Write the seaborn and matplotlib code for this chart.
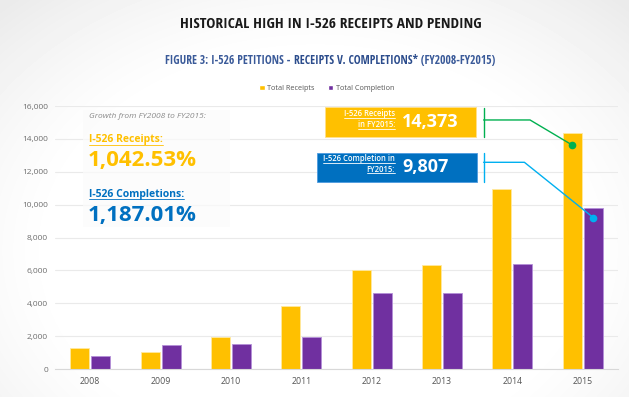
import matplotlib
matplotlib.use('Agg')
import matplotlib.pyplot as plt
import numpy as np
import pandas as pd
import seaborn as sns
from matplotlib.patches import Rectangle
from matplotlib.lines import Line2D

years = ['2008', '2009', '2010', '2011', '2012', '2013', '2014', '2015']
receipts = [1258, 1031, 1955, 3805, 6041, 6346, 10928, 14373]
completions = [762, 1466, 1517, 1938, 4627, 4631, 6383, 9807]
series_names = ['Total Receipts', 'Total Completion']
yticks = [0, 2000, 4000, 6000, 8000, 10000, 12000, 14000, 16000]

YELLOW = '#FFC000'
PURPLE = '#7030A0'
BLUE = '#0070C0'
GREEN = '#00B050'
CYAN = '#00B0F0'
NAVY = '#2B4C8C'
COND = ['Open Sans Condensed', 'Roboto', 'DejaVu Sans']

df = pd.DataFrame({
    'year': years * 2,
    'count': receipts + completions,
    'series': [series_names[0]] * len(years) + [series_names[1]] * len(years),
})

sns.set_style('white')
plt.rcParams['font.family'] = ['Open Sans', 'DejaVu Sans']

fig = plt.figure(figsize=(6.29, 3.97), dpi=100)

# soft vignette background
bg = fig.add_axes([0, 0, 1, 1], zorder=0)
bg.axis('off')
yy, xx = np.mgrid[0:397, 0:629]
r = np.sqrt(((xx - 315) / 430) ** 2 + ((yy - 250) / 320) ** 2)
img = 1 - 0.08 * np.clip((r - 0.6) / 0.45, 0, 1) ** 1.3
bg.imshow(img, cmap='gray', vmin=0, vmax=1, aspect='auto', extent=(0, 1, 0, 1))
bg.set_xlim(0, 1)
bg.set_ylim(0, 1)

ax = fig.add_axes([55 / 629, 28 / 397, 563 / 629, 263 / 397], zorder=1)
ax.patch.set_alpha(0)

sns.barplot(data=df, x='year', y='count', hue='series', palette=[YELLOW, PURPLE],
            width=0.6, gap=0.1, ax=ax, saturation=1, legend=True)
for cont, ec in zip(ax.containers, ['#ffe9a0', '#b48fd8']):
    for p in cont:
        p.set_edgecolor(ec)
        p.set_linewidth(0.6)

ax.set_xlim(-0.5, 7.5)
ax.set_ylim(0, 16000)
ax.set_yticks(yticks)
ax.set_yticklabels([f'{v:,}' for v in yticks])
ax.set_xlabel('')
ax.set_ylabel('')
ax.tick_params(axis='y', length=0, pad=5, labelsize=6, labelcolor='#6e6e6e')
ax.tick_params(axis='x', length=0, pad=6, labelsize=6.3, labelcolor='#555555')
ax.yaxis.grid(True, color='#eaeaea', lw=0.8)
ax.set_axisbelow(True)
for s in ['top', 'right', 'left']:
    ax.spines[s].set_visible(False)
ax.spines['bottom'].set_color('#d8d8d8')
ax.spines['bottom'].set_linewidth(0.8)

sns.move_legend(ax, 'center', bbox_to_anchor=(0.483, 1.068), ncol=2, frameon=False,
                title=None, fontsize=5.2, handlelength=0.7, handleheight=0.7,
                handletextpad=0.4, columnspacing=1.8, labelcolor='#555555')

# left panel with growth figures
ax.add_patch(Rectangle((0.05, 0.54), 0.26, 0.445, transform=ax.transAxes,
                       facecolor='#fbfbfb', alpha=0.75, edgecolor='none', zorder=2))
ax.text(0.06, 0.959, 'Growth from FY2008 to FY2015:', transform=ax.transAxes,
        fontsize=6, style='italic', color='#8a8a8a', va='center', zorder=3)
t1 = ax.text(0.06, 0.871, 'I-526 Receipts:', transform=ax.transAxes, fontsize=7.5,
             fontweight='bold', color=YELLOW, va='center', zorder=3)
ax.text(0.058, 0.791, '1,042.53%', transform=ax.transAxes, fontsize=16,
        fontweight='bold', color=YELLOW, va='center', zorder=3)
t2 = ax.text(0.06, 0.665, 'I-526 Completions:', transform=ax.transAxes, fontsize=7.5,
             fontweight='bold', color=BLUE, va='center', zorder=3)
ax.text(0.058, 0.582, '1,187.01%', transform=ax.transAxes, fontsize=16,
        fontweight='bold', color=BLUE, va='center', zorder=3)
underline = [t1, t2]

# callout boxes for FY2015
x_rec = len(years) - 1 - 0.15
x_comp = len(years) - 1 + 0.15
ax.add_patch(Rectangle((3.33, 14130), 2.15, 1790, facecolor=YELLOW,
                       edgecolor='#ffe08a', lw=0.6, zorder=3))
ax.add_patch(Rectangle((3.23, 11360), 2.26, 1765, facecolor=BLUE,
                       edgecolor='#4d9be0', lw=0.6, zorder=3))
for y0, txt in [(15540, 'I-526 Receipts'), (14850, 'in FY2015:'),
                (12800, 'I-526 Completion in'), (12150, 'FY2015:')]:
    underline.append(ax.text(4.33, y0, txt, fontsize=5.5, fontweight='semibold',
                             color='white', ha='right', va='center', zorder=4))
ax.text(4.43, 15000, f'{receipts[-1]:,}', fontsize=13, fontweight='bold',
        color='white', va='center', zorder=4)
ax.text(4.43, 12280, f'{completions[-1]:,}', fontsize=13, fontweight='bold',
        color='white', va='center', zorder=4)

# connectors
ax.plot([5.59, 5.59], [14130, 15880], color=GREEN, lw=1, zorder=4)
ax.plot([5.59, 6.25, x_rec], [15150, 15150, receipts[-1] - 750], color=GREEN, lw=1, zorder=4)
ax.plot([x_rec], [receipts[-1] - 750], 'o', color=GREEN, ms=4.5, zorder=5)
ax.plot([5.59, 5.59], [11390, 13140], color=CYAN, lw=1, zorder=4)
ax.plot([5.59, 6.17, x_comp], [12575, 12575, completions[-1] - 600], color=CYAN, lw=1, zorder=4)
ax.plot([x_comp], [completions[-1] - 600], 'o', color=CYAN, ms=4.5, zorder=5)

# titles, sized to fit the reference widths
fig.canvas.draw()
rend = fig.canvas.get_renderer()
title = fig.text(331 / 629, 1 - 24.5 / 397, 'HISTORICAL HIGH IN I-526 RECEIPTS AND PENDING',
                 family=COND, fontsize=12, fontweight='bold', color='#1a1a1a',
                 ha='center', va='center')
tw = title.get_window_extent(rend).width
title.set_fontsize(12 * 300 / tw)

parts = [('FIGURE 3: I-526 PETITIONS - ', 'bold', '#3a5a99'),
         ('RECEIPTS V. COMPLETIONS*', 'bold', NAVY),
         (' (FY2008-FY2015)', 'light', '#3a5a99')]
sub = [fig.text(0, 1 - 60 / 397, s, family=COND, fontsize=10, fontweight=w, color=c,
                va='center') for s, w, c in parts]
total = sum(t.get_window_extent(rend).width for t in sub)
for t in sub:
    t.set_fontsize(10 * 330 / total)
widths = [t.get_window_extent(rend).width for t in sub]
x = 330 - sum(widths) / 2
for t, w in zip(sub, widths):
    t.set_x(x / 629)
    x += w

fig.canvas.draw()
for t in underline:
    bb = t.get_window_extent(rend)
    fig.add_artist(Line2D([bb.x0 / 629, bb.x1 / 629], [(bb.y0 + 0.5) / 397] * 2,
                          color=t.get_color(), lw=0.6, zorder=5))

fig.savefig('out.png', dpi=100)
